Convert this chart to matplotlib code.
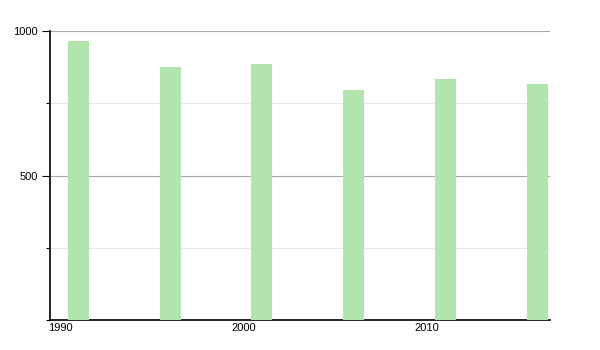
import matplotlib
matplotlib.use("Agg")
import matplotlib.pyplot as plt
from matplotlib.ticker import MultipleLocator

years = [1991, 1996, 2001, 2006, 2011, 2016]
population = [965, 876, 887, 796, 834, 817]
xticks = [1990, 2000, 2010]
yticks = [500, 1000]

plt.rcParams['font.family'] = ['Liberation Sans', 'DejaVu Sans']

fig = plt.figure(figsize=(6, 3.5), dpi=100)
ax = fig.add_axes([50/600, 30/350, 500/600, 289/350])

ax.bar(years, population, width=1.15, color='#b2e4ae', zorder=3)

ax.set_xlim(1989.45, 2016.7)
ax.set_ylim(0, 1000)
ax.set_yticks(yticks)
ax.yaxis.set_minor_locator(MultipleLocator(250))
ax.set_xticks(xticks)
ax.set_xticklabels([str(x) for x in xticks])

ax.grid(axis='y', which='major', color='#aaaaaa', linewidth=0.8, zorder=0)
ax.grid(axis='y', which='minor', color='#e6e6e6', linewidth=0.8, zorder=0)

for s in ['top', 'right']:
    ax.spines[s].set_visible(False)
ax.spines['left'].set_linewidth(1.2)
ax.spines['bottom'].set_linewidth(1.2)

ax.tick_params(axis='y', which='major', length=6, width=0.8, labelsize=8, pad=3)
ax.tick_params(axis='y', which='minor', length=3, width=0.8)
ax.tick_params(axis='x', length=0, labelsize=8, pad=2)

fig.savefig('out.png', dpi=100)
